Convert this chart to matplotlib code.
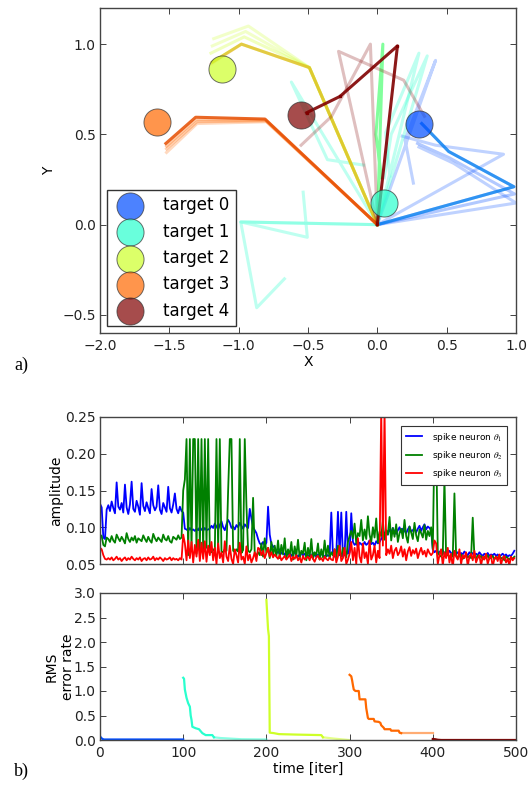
import numpy as np
import matplotlib
matplotlib.use("Agg")
import matplotlib.pyplot as plt

plt.rcParams['font.family'] = ['DejaVu Sans']
plt.rcParams['mathtext.fontset'] = 'stix'

# ---------------- data: panel a) ----------------
target_labels = ['target 0', 'target 1', 'target 2', 'target 3', 'target 4']
target_x = [0.30, 0.05, -1.12, -1.59, -0.55]
target_y = [0.56, 0.12, 0.86, 0.57, 0.61]
target_cvals = [0.2, 0.4, 0.6, 0.8, 1.0]

# arm configurations (joint1, joint2, end effector) per target; base at origin
arms_t0 = [[(0.91, 0.39), (0.42, 0.44), (0.18, 0.49)],
           [(1.00, 0.12), (0.55, 0.34), (0.30, 0.43)],
           [(0.42, 0.91), (0.20, 0.47), (0.26, 0.23)],
           [(0.99, 0.17), (0.52, 0.37), (0.29, 0.45)],
           [(0.985, 0.21), (0.515, 0.405), (0.32, 0.56)]]
alpha_t0 = [0.25, 0.25, 0.25, 0.3, 0.8]

arms_t1 = [[(0.985, 0.21), (0.515, 0.405), (0.32, 0.56)],
           [(-0.62, 0.79), (-0.36, 0.36), (-0.10, 0.33)],
           [(-0.985, 0.015), (-0.505, -0.07), (-0.535, 0.18)],
           [(-0.985, 0.015), (-0.87, -0.46), (-0.67, -0.30)],
           [(0.36, 0.935), (0.10, 0.50), (0.05, 0.26)],
           [(0.30, 0.95), (0.06, 0.51), (0.09, 0.27)],
           [(0.04, 1.00), (-0.01, 0.50), (0.03, 0.26)]]
alpha_t1 = [0.25, 0.3, 0.3, 0.3, 0.3, 0.3, 0.7]

arms_t2 = [[(-0.49, 0.87), (-0.93, 1.10), (-1.18, 1.03)],
           [(-0.49, 0.87), (-0.95, 1.07), (-1.19, 0.99)],
           [(-0.49, 0.87), (-0.96, 1.04), (-1.20, 0.95)],
           [(-0.49, 0.87), (-0.98, 1.00), (-1.19, 0.90)]]
alpha_t2 = [0.25, 0.25, 0.3, 0.8]

arms_t3 = [[(-0.49, 0.87), (-0.98, 1.00), (-1.20, 0.89)],
           [(-0.80, 0.57), (-1.30, 0.56), (-1.52, 0.40)],
           [(-0.80, 0.575), (-1.30, 0.57), (-1.52, 0.42)],
           [(-0.81, 0.58), (-1.31, 0.58), (-1.52, 0.435)],
           [(-0.81, 0.585), (-1.31, 0.595), (-1.525, 0.45)]]
alpha_t3 = [0.25, 0.25, 0.3, 0.35, 0.85]

arms_t4 = [[(-0.28, 0.96), (0.19, 0.80), (0.34, 0.60)],
           [(-0.05, 1.00), (-0.33, 0.60), (-0.55, 0.44)],
           [(0.145, 0.99), (-0.27, 0.71), (-0.51, 0.62)]]
alpha_t4 = [0.25, 0.25, 0.9]

# ---------------- data: panel b) amplitudes (thousandths, every 2 iterations) ----------------
amp_time = list(range(0, 500, 2))

theta1 = ([132, 127, 86, 84, 124] +
          [130, 122, 135, 126, 119, 161, 128, 124, 133, 120,
           158, 127, 118, 131, 162, 125, 121, 136, 128, 117,
           160, 129, 122, 134, 126, 119, 152, 130, 123, 128,
           157, 124, 118, 133, 127, 121, 155, 126, 120, 131,
           146, 125, 119, 128, 122] +
          [120, 98, 97, 95, 99, 96, 97, 95, 98, 96, 100, 97, 95, 99, 96, 97] +
          [98, 102, 99, 105, 101, 97, 103, 108, 100, 96,
           104, 110, 106, 99, 101, 97, 103, 100, 106, 102,
           98, 104, 101, 99, 125, 112, 100, 96, 92, 84] +
          [78, 76, 80, 75, 79, 128, 90, 77, 74, 72] +
          [68, 65, 70, 64, 66, 62, 67, 63, 65, 61, 64, 66, 62, 60, 63, 65, 61,
           64, 62, 60, 63, 61, 65, 62, 60, 63, 61, 64, 62, 60, 63, 61, 62, 120] +
          [62, 60, 64, 121, 62, 120, 60, 63, 121, 64, 66] +
          [119, 80, 76, 78, 74, 79, 77, 75, 80, 76, 78, 82, 77, 79, 75, 81, 78, 80, 84, 88,
           92, 95, 90, 97, 93, 99, 94, 91, 96, 100, 93, 98, 95, 92, 97, 101, 94, 96, 99, 93,
           98, 102, 95, 100, 104, 97, 101, 99, 96] +
          [70, 66, 68, 64, 67, 65, 69, 63, 66, 64, 68, 65, 63, 67, 64, 66, 62, 65, 63, 67,
           64, 62, 66, 63, 65, 61, 64, 62, 66, 63, 61, 64, 62, 65, 61, 63, 62, 64, 61, 63,
           60, 62, 64, 61, 63, 60, 62, 61, 64, 68])

theta2 = ([90, 88, 76, 74, 86] +
          [84, 80, 88, 82, 79, 90, 85, 81, 87, 83, 78, 92, 84, 80, 86, 82, 88, 79, 85, 83,
           81, 89, 84, 80, 87, 82, 79, 91, 85, 81, 86, 83, 80, 90, 84, 82, 88, 81, 79, 87,
           85, 83, 89, 84, 86] +
          [150, 165, 220, 62, 220, 68, 220, 220, 64, 220, 70, 220, 66, 220, 72, 220] +
          [68, 66, 70, 67, 220, 69, 220, 67, 66, 70, 68, 150, 220, 220, 68, 66, 70, 67, 220, 65,
           69, 220, 130, 68, 66, 70, 140, 64, 62, 66] +
          [62, 78, 60, 85, 65, 72, 58, 80, 62, 75] +
          [60, 82, 58, 76, 63, 85, 57, 70, 62, 80, 56, 74, 61, 83, 58, 68, 64, 79, 55, 72,
           60, 84, 57, 66, 62, 78, 56, 70, 59, 82, 60, 75, 58, 66] +
          [62, 70, 58, 75, 64, 60, 72, 66, 59, 80, 88] +
          [95, 85, 105, 78, 92, 88, 110, 82, 97, 84, 115, 90, 80, 100, 86, 112, 79, 94, 88, 108,
           83, 96, 90, 114, 82, 99, 87, 104, 80, 92, 98, 85, 110, 88, 79, 101, 93, 84, 106, 89,
           81, 97, 92, 86, 103, 83, 95, 88, 100] +
          [70, 220, 220, 65, 62, 60, 64, 166, 61, 63, 59, 62, 60, 146, 62, 58, 61, 63, 57, 60,
           62, 59, 61, 58, 113, 60, 57, 62, 59, 61, 56, 60, 58, 62, 57, 59, 61, 56, 60, 58,
           62, 57, 59, 55, 60, 58, 56, 59, 57, 60])

theta3 = ([72, 70, 62, 57, 56] +
          [58, 56, 59, 55, 57, 60, 56, 58, 54, 57, 59, 55, 58, 56, 60, 57, 55, 58, 56, 59,
           54, 57, 58, 55, 59, 56, 57, 60, 55, 58, 56, 59, 57, 54, 58, 56, 57, 59, 55, 58,
           56, 57, 55, 58, 56] +
          [90, 78, 55, 82, 58, 80, 52, 76, 60, 83, 54, 79, 57, 81, 53, 75] +
          [62, 80, 55, 72, 50, 78, 58, 66, 52, 81, 60, 54, 75, 57, 50, 70, 62, 52, 79, 56,
           60, 50, 74, 55, 63, 52, 58, 66, 54, 72] +
          [70, 62, 68, 58, 65, 72, 60, 66, 59, 63] +
          [60, 57, 62, 55, 58, 61, 56, 59, 63, 54, 60, 57, 62, 55, 59, 52, 61, 56, 58, 60,
           55, 62, 57, 53, 59, 61, 56, 58, 54, 60, 57, 55, 59, 56] +
          [55, 70, 52, 60, 75, 54, 58, 72, 50, 56, 64] +
          [80, 55, 72, 50, 85, 60, 52, 78, 58, 66, 50, 82, 56, 62, 75, 52, 68, 58,
           260, 75, 260, 62,
           70, 64, 75, 58, 68, 72, 62, 66, 74, 60, 70, 55, 67, 73, 61, 69, 64, 71, 58, 66,
           72, 63, 68, 60, 70, 65, 62] +
          [65, 82, 78, 50, 62, 70, 48, 66, 58, 72, 52, 64, 45, 68, 60, 56, 70, 50, 62, 58,
           66, 47, 60, 64, 55, 68, 52, 58, 62, 48, 60, 56, 64, 50, 58, 62, 46, 57, 60, 54,
           63, 49, 58, 61, 52, 57, 48, 60, 55, 58])

amp_labels = [r'spike neuron $\theta_1$', r'spike neuron $\theta_2$', r'spike neuron $\theta_3$']

# ---------------- data: RMS error per target phase ----------------
rms_t0 = [0, 1, 3, 5, 100]
rms_v0 = [0.08, 0.05, 0.02, 0.01, 0.01]
rms_t1 = [100, 101, 102, 104, 106, 108, 109, 110, 111, 115, 119, 123, 127, 135, 137, 145, 155, 170, 200]
rms_v1 = [1.27, 1.25, 1.03, 0.86, 0.75, 0.68, 0.50, 0.41, 0.27, 0.24, 0.22, 0.14, 0.10, 0.10, 0.055, 0.04, 0.03, 0.015, 0.01]
rms_t2 = [200, 202, 203, 204, 209, 215, 237, 266, 268, 282, 299]
rms_v2 = [2.86, 2.26, 2.12, 0.15, 0.14, 0.12, 0.11, 0.10, 0.055, 0.027, 0.0]
rms_t3 = [300, 302, 303, 304, 305, 307, 311, 312, 319, 320, 322, 323, 329, 330, 335, 337, 338, 341, 342, 349, 350, 359, 360, 362, 400]
rms_v3 = [1.33, 1.30, 1.22, 1.12, 1.03, 1.00, 1.00, 0.83, 0.83, 0.65, 0.45, 0.43, 0.43, 0.38, 0.37, 0.35, 0.30, 0.25, 0.22, 0.22, 0.19, 0.19, 0.15, 0.14, 0.14]
rms_t4 = [400, 403, 406, 410, 500]
rms_v4 = [0.02, 0.015, 0.005, 0.0, 0.0]
# iteration after which each phase's curve is drawn lighter
rms_fade = [100, 137, 268, 362, 500]

# ---------------- figure ----------------
W, H = 532, 785
fig = plt.figure(figsize=(W / 100, H / 100), dpi=100)
fig.patch.set_facecolor('white')

def px_axes(left, top, right, bottom):
    return fig.add_axes([left / W, 1 - bottom / H, (right - left) / W, (bottom - top) / H])

ax1 = px_axes(100, 8, 516, 333)
ax2 = px_axes(100, 417, 516, 564)
ax3 = px_axes(100, 593, 516, 740)

jet = plt.get_cmap('jet')
tcolors = [jet(v) for v in target_cvals]

def style(ax):
    ax.tick_params(direction='in', top=True, right=True, length=4, width=0.6,
                   labelsize=10, colors='#222222')
    ax.tick_params(axis='y', pad=3)
    ax.tick_params(axis='x', pad=4)
    for s in ax.spines.values():
        s.set_color('#444444')
        s.set_linewidth(1.0)

# panel a
all_arms = [arms_t0, arms_t1, arms_t2, arms_t3, arms_t4]
all_alpha = [alpha_t0, alpha_t1, alpha_t2, alpha_t3, alpha_t4]
for k in range(5):
    for cfg, a in zip(all_arms[k], all_alpha[k]):
        xs = [0.0] + [p[0] for p in cfg]
        ys = [0.0] + [p[1] for p in cfg]
        col = tcolors[k]
        if k == 1 and a >= 0.7:
            col = (0.3, 1.0, 0.45, 1.0)
        if k == 2 and a >= 0.7:
            col = (0.82, 0.85, 0.0, 1.0)
        if k == 3 and a >= 0.7:
            col = (0.9, 0.3, 0.0, 1.0)
        if k == 3 and a < 0.3 and cfg[0][1] > 0.8:
            col = (1.0, 0.55, 0.45, 1.0)
        ax1.plot(xs, ys, color=col, alpha=a, lw=2.2, zorder=2)
        if k == 4 and a >= 0.85:
            ax1.plot(xs[1:], ys[1:], ls='none', marker='s', ms=2.0, color=col, zorder=3)

for k in range(5):
    ax1.scatter([target_x[k]], [target_y[k]], s=380, color=tcolors[k], alpha=0.7,
                edgecolors='#333333', linewidths=0.7, label=target_labels[k], zorder=4)

ax1.set_xlim(-2.0, 1.0)
ax1.set_ylim(-0.6, 1.2)
ax1.set_xticks(np.arange(-2.0, 1.01, 0.5))
ax1.set_yticks([-0.5, 0.0, 0.5, 1.0])
ax1.set_xlabel('X', fontsize=10, labelpad=2)
ax1.set_ylabel('Y', fontsize=10)
style(ax1)
ax1.yaxis.set_label_coords(-0.105, 0.5)
leg1 = ax1.legend(loc='lower left', scatterpoints=1, fontsize=12, fancybox=False,
                  borderaxespad=0.4, handletextpad=1.0, labelspacing=0.5, borderpad=0.4,
                  framealpha=1.0)
leg1.get_frame().set_edgecolor('#333333')
leg1.get_frame().set_linewidth(1.0)

# panel b amplitude
t_arr = np.array(amp_time)
for vals, c, lab in zip([theta1, theta2, theta3], ['b', 'g', 'r'], amp_labels):
    ax2.plot(t_arr, np.array(vals) / 1000.0, color=c, lw=1.3, label=lab)
ax2.set_xlim(0, 500)
ax2.set_ylim(0.05, 0.25)
ax2.set_yticks([0.05, 0.10, 0.15, 0.20, 0.25])
ax2.set_yticklabels(['0.05', '0.10', '0.15', '0.20', '0.25'])
ax2.set_xticks([0, 100, 200, 300, 400, 500])
ax2.set_xticklabels([])
ax2.set_ylabel('amplitude', fontsize=10)
style(ax2)
ax2.yaxis.set_label_coords(-0.088, 0.5)
leg2 = ax2.legend(loc='upper right', fontsize=6.5, fancybox=False, borderaxespad=1.0,
                  labelspacing=0.6, handlelength=1.8, handletextpad=1.1, borderpad=0.5,
                  framealpha=1.0)
leg2.get_frame().set_edgecolor('#333333')
leg2.get_frame().set_linewidth(0.8)

# panel b RMS
rms_t = [rms_t0, rms_t1, rms_t2, rms_t3, rms_t4]
rms_v = [rms_v0, rms_v1, rms_v2, rms_v3, rms_v4]
for k in range(5):
    tt = np.array(rms_t[k], dtype=float)
    vv = np.array(rms_v[k], dtype=float)
    early = tt <= rms_fade[k]
    late = tt >= rms_fade[k]
    ax3.plot(tt[late], vv[late], color=tcolors[k], lw=1.6, alpha=0.55)
    ax3.plot(tt[early], vv[early], color=tcolors[k], lw=1.6)
ax3.set_xlim(0, 500)
ax3.set_ylim(0, 3.0)
ax3.set_yticks(np.arange(0, 3.01, 0.5))
ax3.set_xticks([0, 100, 200, 300, 400, 500])
ax3.set_xlabel('time [iter]', fontsize=10, labelpad=2)
ax3.set_ylabel('RMS\nerror rate', fontsize=10)
style(ax3)
ax3.yaxis.set_label_coords(-0.06, 0.5)

fig.text(14 / W, 1 - 365 / H, 'a)', fontsize=13, family='Liberation Serif', va='center')
fig.text(14 / W, 1 - 771 / H, 'b)', fontsize=13, family='Liberation Serif', va='center')

fig.savefig('out.png', dpi=100, facecolor='white')
